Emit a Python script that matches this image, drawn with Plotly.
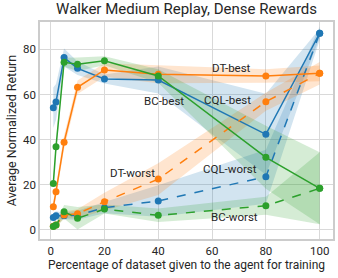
import plotly.graph_objects as go

x = [1, 2, 5, 10, 20, 40, 80, 100]

# series values (mean) and band half-widths
dt_best = [10.1, 16.8, 38.8, 63.2, 70.9, 69.0, 68.2, 69.4]
dt_best_sd = [2.5, 2.5, 3, 3, 3, 4, 3, 3.5]
dt_worst = [1.5, 2.0, 6.5, 7.0, 12.4, 22.4, 56.8, 69.4]
dt_worst_sd = [1, 1, 1.5, 2, 4, 7, 4, 5]

cql_best = [54.1, 56.7, 76.4, 71.6, 66.9, 66.4, 42.3, 87.2]
cql_best_sd = [9, 8, 4, 3, 2, 6, 18, 2]
cql_worst = [5.3, 6.1, 6.1, 6.4, 9.7, 12.7, 23.5, 87.2]
cql_worst_sd = [2, 2, 1.5, 2, 2.5, 7, 12, 3]

bc_best = [20.5, 36.8, 74.3, 73.4, 75.0, 68.2, 32.1, 18.3]
bc_best_sd = [2, 3, 2, 3, 2, 3, 14, 16]
bc_worst = [1.3, 2.0, 7.9, 5.0, 9.1, 6.3, 10.6, 18.3]
bc_worst_sd = [1, 1, 3, 5, 2, 3, 4, 16]

labels = ["DT-best", "CQL-best", "BC-best", "DT-worst", "CQL-worst", "BC-worst"]
label_x = [67.1, 65.6, 42.2, 30.6, 66.5, 68.4]
label_y = [71.6, 57.6, 57.1, 25.0, 26.8, 5.4]

BLUE = (31, 119, 180)
ORANGE = (255, 127, 14)
GREEN = (44, 160, 44)

series = [
    (cql_best, cql_best_sd, BLUE, "solid"),
    (cql_worst, cql_worst_sd, BLUE, "dash"),
    (dt_best, dt_best_sd, ORANGE, "solid"),
    (dt_worst, dt_worst_sd, ORANGE, "dash"),
    (bc_best, bc_best_sd, GREEN, "solid"),
    (bc_worst, bc_worst_sd, GREEN, "dash"),
]

fig = go.Figure()
for vals, sd, c, dash in series:
    up = [v + s for v, s in zip(vals, sd)]
    lo = [v - s for v, s in zip(vals, sd)]
    fig.add_trace(go.Scatter(
        x=x + x[::-1], y=up + lo[::-1], fill="toself",
        fillcolor="rgba(%d,%d,%d,0.2)" % c, line=dict(width=0),
        mode="lines", hoverinfo="skip", showlegend=False))
for vals, sd, c, dash in series:
    fig.add_trace(go.Scatter(
        x=x, y=vals, mode="lines+markers",
        line=dict(color="rgb(%d,%d,%d)" % c, width=1.5, dash=dash),
        marker=dict(size=7, color="rgb(%d,%d,%d)" % c),
        showlegend=False))

for t, ax, ay in zip(labels, label_x, label_y):
    fig.add_annotation(x=ax, y=ay, text=t, showarrow=False,
                       font=dict(size=11.5, color="#262626", family="Roboto"))

fig.update_layout(
    width=338, height=278,
    margin=dict(l=40, r=5, t=22, b=39, autoexpand=False),
    paper_bgcolor="white", plot_bgcolor="white",
    font=dict(family="Roboto", color="#262626", size=11.5),
    title=dict(text="Walker Medium Replay, Dense Rewards", x=0.552, xanchor="center",
               yref="container", y=0.988, yanchor="top", font=dict(size=15)),
    showlegend=False,
)
fig.update_xaxes(range=[-3.95, 104.95], tickvals=[0, 20, 40, 60, 80, 100],
                 showgrid=True, gridcolor="#d9d9d9", gridwidth=1,
                 showline=True, linecolor="#cccccc", linewidth=1.5, mirror=True,
                 zeroline=False, ticks="", tickfont=dict(size=11.5), automargin=False,
                 title=dict(text="Percentage of dataset given to the agent for training",
                            font=dict(size=12), standoff=2))
fig.update_yaxes(range=[-4.2, 92.2], tickvals=[0, 20, 40, 60, 80],
                 showgrid=True, gridcolor="#d9d9d9", gridwidth=1,
                 showline=True, linecolor="#cccccc", linewidth=1.5, mirror=True,
                 zeroline=False, ticks="", tickfont=dict(size=11.5), automargin=False,
                 title=dict(text="Average Normalized Return", font=dict(size=12.5), standoff=4))

fig.write_html("out.html", config={"displayModeBar": False},
               post_script="document.body.style.margin='0';")
